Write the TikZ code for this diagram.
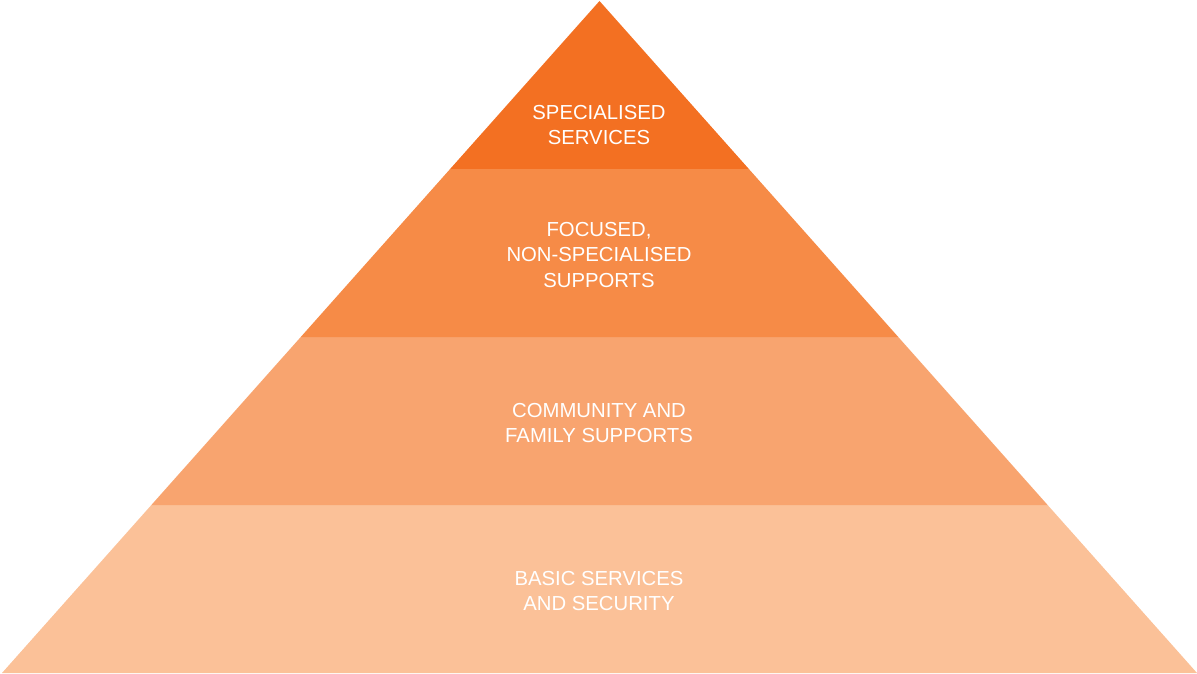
\documentclass[tikz,border=0pt]{standalone}
\usepackage{fontspec}
\setmainfont{Liberation Sans}
\usetikzlibrary{calc}
\definecolor{lay1}{HTML}{F37022}
\definecolor{lay2}{HTML}{F68B47}
\definecolor{lay3}{HTML}{F8A46F}
\definecolor{lay4}{HTML}{FBC198}
\begin{document}
\begin{tikzpicture}[x=1pt,y=-1pt,
  lbl/.style={text=white,align=center,font=\fontsize{20.3}{25.5}\selectfont,inner sep=0pt}]
\useasboundingbox (0,0) rectangle (1197,674);
\coordinate (apex) at (599.5,1);
\coordinate (bl) at (2,673);
\coordinate (br) at (1197,673);
% layers
\fill[lay4] (bl) -- (br) -- ($(apex)!0.75!(br)$) -- ($(apex)!0.75!(bl)$) -- cycle;
\fill[lay3] ($(apex)!0.75!(bl)$) -- ($(apex)!0.75!(br)$) -- ($(apex)!0.5!(br)$) -- ($(apex)!0.5!(bl)$) -- cycle;
\fill[lay2] ($(apex)!0.5!(bl)$) -- ($(apex)!0.5!(br)$) -- ($(apex)!0.25!(br)$) -- ($(apex)!0.25!(bl)$) -- cycle;
\fill[lay1] ($(apex)!0.25!(bl)$) -- ($(apex)!0.25!(br)$) -- (apex) -- cycle;
\node[lbl] (t1) at (599,125) {SPECIALISED\\SERVICES};
\node[lbl] (t2) at (599,255) {FOCUSED,\\NON-SPECIALISED\\SUPPORTS};
\node[lbl] (t3) at (599,423) {COMMUNITY AND\\FAMILY SUPPORTS};
\node[lbl] (t4) at (599,591) {BASIC SERVICES\\AND SECURITY};
\end{tikzpicture}
\end{document}
